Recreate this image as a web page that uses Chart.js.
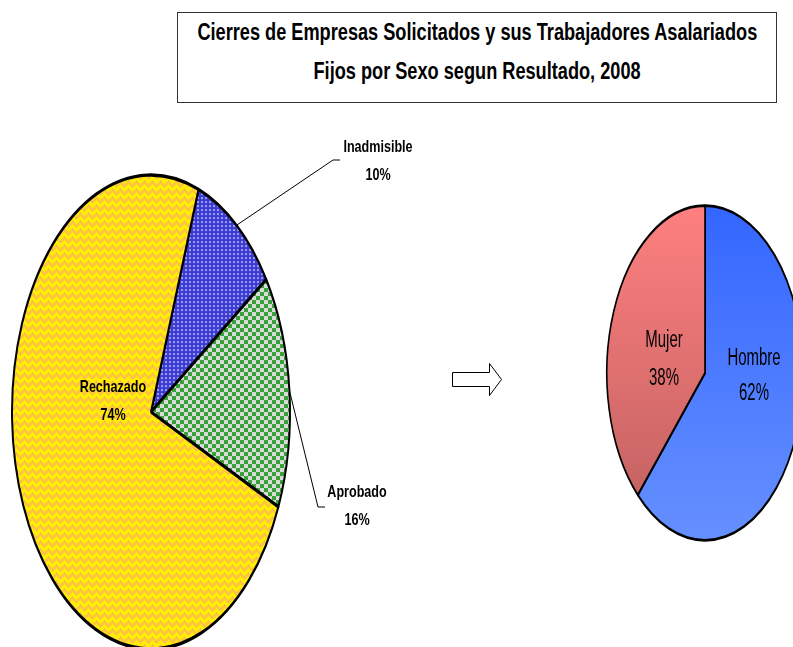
<!DOCTYPE html>
<html>
<head>
<meta charset="utf-8">
<script src="https://cdn.jsdelivr.net/npm/chart.js@4.4.1/dist/chart.umd.min.js"></script>
<style>
    html, body { margin: 0; padding: 0; background: #fff; }
    body { width: 793px; height: 647px; position: relative; overflow: hidden; }
    #titulo {
        position: absolute; left: 177px; top: 12px; width: 600px; height: 91px;
        border: 1px solid #333; box-sizing: border-box;
        display: flex; flex-direction: column; align-items: center;
        font: bold 23px "Liberation Sans", Arial, sans-serif;
        line-height: 39px; color: #000;
    }
    #titulo span { display: inline-block; white-space: nowrap; transform: scaleX(0.79); transform-origin: 50% 50%; }
    #wrapIzq { position: absolute; left: 0; top: 100px; width: 440px; height: 547px; }
    #wrapDer { position: absolute; left: 540px; top: 150px; width: 300px; height: 450px; }
    #flecha { position: absolute; left: 0; top: 0; }
</style>
</head>
<body>
<div id="titulo"><span>Cierres de Empresas Solicitados y sus Trabajadores Asalariados</span><span>Fijos por Sexo segun Resultado, 2008</span></div>
<svg id="flecha" width="793" height="647">
    <polygon points="452.5,372.5 489.5,372.5 489.5,363.5 501.5,379.5 489.5,395.5 489.5,386.5 452.5,386.5"
             fill="#fff" stroke="#000" stroke-width="1"/>
</svg>
<div id="wrapIzq"><canvas id="graficoResultado" width="440" height="547"></canvas></div>
<div id="wrapDer"><canvas id="graficoSexo" width="300" height="450"></canvas></div>

<script>
// Datos
const resultadoLabels = ['Inadmisible', 'Aprobado', 'Rechazado'];
const resultadoValores = [10, 16, 74];
const sexoLabels = ['Hombre', 'Mujer'];
const sexoValores = [62, 38];

const FUENTE = '"Liberation Sans", Arial, sans-serif';

// patrones de relleno (tipo Excel)
function crearPatron(tam, pintar, k) {
    const c = document.createElement('canvas');
    c.width = tam; c.height = tam;
    const g = c.getContext('2d');
    pintar(g, tam);
    const p = g.createPattern(c, 'repeat');
    p.setTransform(new DOMMatrix().scale(1, 1 / k));
    return p;
}

function patronAmarillo(g, n) {
    g.fillStyle = '#FFC83C';
    g.fillRect(0, 0, n, n);
    g.fillStyle = '#FFF000';
    for (let i = 0; i < n; i++) {
        const t = i < n / 2 ? i : n - i;
        for (let j = 0; j < n; j++) {
            const d = ((j - t) % n + n) % n;
            if (d < 4) g.fillRect(i, j, 1, 1);
        }
    }
    g.fillStyle = '#F4A0A0';
    g.fillRect(0, 5, 1, 1);
    g.fillRect(4, 1, 1, 1);
}

function patronAzul(g, n) {
    g.fillStyle = '#3C3CD2';
    g.fillRect(0, 0, n, n);
    g.fillStyle = '#9C9CF5';
    g.fillRect(1, 1, 2, 2);
}

function patronVerde(g, n) {
    g.fillStyle = '#DCDCDC';
    g.fillRect(0, 0, n, n);
    g.fillStyle = '#35A035';
    g.fillRect(0, 0, n / 2, n / 2);
    g.fillRect(n / 2, n / 2, n / 2, n / 2);
}

// estira el pastel verticalmente para hacerlo eliptico
const elipse = {
    id: 'elipse',
    beforeDatasetsDraw(chart, args, opts) {
        const arc = chart.getDatasetMeta(0).data[0];
        const ctx = chart.ctx;
        ctx.save();
        ctx.translate(arc.x, arc.y);
        ctx.scale(1, opts.k);
        ctx.translate(-arc.x, -arc.y);
    },
    afterDatasetsDraw(chart) {
        chart.ctx.restore();
    }
};

// texto estrecho (como Arial Narrow)
function textoEstrecho(ctx, txt, x, y, sx) {
    ctx.save();
    ctx.translate(x, y);
    ctx.scale(sx, 1);
    ctx.fillText(txt, 0, 0);
    ctx.restore();
}

// etiquetas y lineas guia
const etiquetas = {
    id: 'etiquetas',
    afterDraw(chart, args, opts) {
        const ctx = chart.ctx;
        const meta = chart.getDatasetMeta(0);
        const valores = chart.data.datasets[0].data;
        const total = valores.reduce((a, b) => a + b, 0);
        ctx.save();
        ctx.textAlign = 'center';
        ctx.textBaseline = 'middle';
        ctx.fillStyle = '#000';
        ctx.font = opts.font;
        meta.data.forEach(function (arc, i) {
            const conf = opts.pos[i];
            const pct = Math.round(valores[i] / total * 100) + '%';
            if (conf.guia) {
                const mid = (arc.startAngle + arc.endAngle) / 2;
                const ex = arc.x + Math.cos(mid) * arc.outerRadius;
                const ey = arc.y + Math.sin(mid) * arc.outerRadius * opts.k;
                ctx.beginPath();
                ctx.lineWidth = 1;
                ctx.strokeStyle = '#000';
                ctx.moveTo(ex, ey);
                ctx.lineTo(conf.guia[0], conf.guia[1]);
                ctx.lineTo(conf.guia[0] + 7, conf.guia[1]);
                ctx.stroke();
            }
            textoEstrecho(ctx, chart.data.labels[i], arc.x + conf.dx, arc.y + conf.dy, opts.sx);
            textoEstrecho(ctx, pct, arc.x + conf.dx, arc.y + conf.dy + (conf.salto || opts.salto), opts.sx);
        });
        ctx.restore();
    }
};

Chart.register(elipse, etiquetas);

const kIzq = 237 / 139;
const kDer = 167 / 98;

new Chart(document.getElementById('graficoResultado'), {
    type: 'pie',
    data: {
        labels: resultadoLabels,
        datasets: [{
            data: resultadoValores,
            backgroundColor: [
                crearPatron(4, patronAzul, kIzq),
                crearPatron(8, patronVerde, kIzq),
                crearPatron(8, patronAmarillo, kIzq)
            ],
            borderColor: '#000',
            borderWidth: 2
        }]
    },
    options: {
        responsive: false,
        animation: false,
        events: [],
        rotation: 20,
        layout: { padding: { left: 11, right: 149, top: 172, bottom: 95 } },
        plugins: {
            legend: { display: false },
            tooltip: { enabled: false },
            elipse: { k: kIzq },
            etiquetas: {
                k: kIzq,
                font: 'bold 17px ' + FUENTE,
                sx: 0.74,
                salto: 28,
                pos: [
                    { dx: 227, dy: -265, guia: [333, 60] },
                    { dx: 206, dy: 80, guia: [318, 407] },
                    { dx: -38, dy: -25 }
                ]
            }
        }
    }
});

new Chart(document.getElementById('graficoSexo'), {
    type: 'pie',
    data: {
        labels: sexoLabels,
        datasets: [{
            data: sexoValores,
            backgroundColor: function (c) {
                const area = c.chart.chartArea;
                if (!area) return '#3366FF';
                const g = c.chart.ctx.createLinearGradient(0, area.top, 0, area.bottom);
                if (c.dataIndex === 0) {
                    g.addColorStop(0, '#3366FF');
                    g.addColorStop(1, '#6690FF');
                } else {
                    g.addColorStop(0, '#FF8080');
                    g.addColorStop(1, '#BD5F5F');
                }
                return g;
            },
            borderColor: '#000',
            borderWidth: 1.6
        }]
    },
    options: {
        responsive: false,
        animation: false,
        events: [],
        layout: { padding: { left: 66, right: 36, top: 124, bottom: 128 } },
        plugins: {
            legend: { display: false },
            tooltip: { enabled: false },
            elipse: { k: kDer },
            etiquetas: {
                k: kDer,
                font: '23px ' + FUENTE,
                sx: 0.65,
                salto: 35,
                pos: [
                    { dx: 49, dy: -14 },
                    { dx: -41, dy: -32, salto: 38 }
                ]
            }
        }
    }
});
</script>
</body>
</html>
